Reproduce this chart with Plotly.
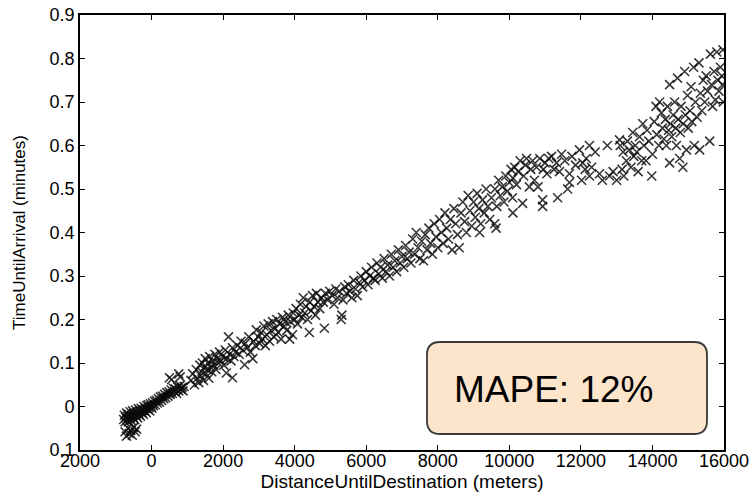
import plotly.graph_objects as go

# (distance in meters, time until arrival in minutes), by stretch of road
near_pts = [
    (-780,-0.030),(-760,-0.020),(-740,-0.035),(-720,-0.025),(-700,-0.015),(-690,-0.030),(-670,-0.022),
    (-650,-0.035),(-640,-0.018),(-620,-0.028),(-600,-0.012),(-590,-0.024),(-570,-0.032),(-550,-0.020),
    (-530,-0.010),(-510,-0.026),(-490,-0.016),(-470,-0.030),(-450,-0.008),(-430,-0.020),(-410,-0.014),
    (-390,-0.026),(-370,-0.005),(-350,-0.018),(-330,-0.010),(-310,-0.022),(-290,-0.004),(-270,-0.014),
    (-250,-0.008),(-230,-0.018),(-210,0.000),(-190,-0.010),(-170,-0.004),(-150,-0.014),(-130,0.002),
    (-110,-0.006),(-90,0.004),(-70,-0.002),(-50,-0.010),(-30,0.006),(-10,0.000),(10,-0.004),(30,0.008),
    (50,0.002),(80,0.012),(100,0.004),(130,0.014),(160,0.008),(190,0.018),(220,0.010),(250,0.022),
    (280,0.014),(310,0.024),(340,0.018),(370,0.028),(400,0.020),(430,0.032),(460,0.024),(490,0.034),
    (520,0.028),(550,0.038),(580,0.030),(610,0.042),(640,0.034),(670,0.040),(700,0.030),(730,0.045),
    (760,0.036),(790,0.048),(820,0.040),(850,0.044),(880,0.036),(910,0.046),
    (-740,-0.058),(-700,-0.068),(-660,-0.050),(-620,-0.062),(-580,-0.055),(-540,-0.066),(-500,-0.048),
    (-460,-0.058),(-420,-0.052),
    (500,0.066),(560,0.062),(760,0.075),(800,0.068),
]
early_pts = [
    (1100,0.060),(1150,0.075),(1200,0.050),(1250,0.085),(1280,0.065),(1320,0.055),(1350,0.095),
    (1380,0.070),(1400,0.080),(1420,0.100),(1450,0.060),(1480,0.090),(1500,0.110),(1520,0.075),
    (1550,0.085),(1580,0.100),(1600,0.065),(1620,0.115),(1650,0.090),(1680,0.080),(1700,0.105),
    (1740,0.095),(1770,0.120),(1800,0.085),(1830,0.110),(1870,0.100),(1900,0.125),(1940,0.105),
    (1980,0.115),(2020,0.095),(2060,0.130),(2100,0.110),(2150,0.160),(2180,0.120),(2090,0.077),
    (2260,0.066),(2220,0.105),(2260,0.135),(2300,0.115),(2350,0.125),(2400,0.140),(2450,0.120),
    (2500,0.150),(2550,0.130),(2600,0.096),(2620,0.145),(2680,0.135),(2720,0.160),(2760,0.125),
    (2830,0.110),(2850,0.150),(2900,0.140),(2930,0.176),(2980,0.160),
]
middle_pts = [
    (3020,0.145),(3060,0.170),(3100,0.155),(3140,0.185),(3180,0.140),(3220,0.165),(3260,0.190),
    (3300,0.150),(3340,0.175),(3380,0.195),(3420,0.160),(3460,0.180),(3500,0.200),(3540,0.170),
    (3580,0.190),(3620,0.155),(3660,0.205),(3700,0.185),(3740,0.195),(3780,0.175),(3820,0.210),
    (3860,0.155),(3880,0.195),(3940,0.165),(3960,0.215),(4000,0.200),(4040,0.225),(4080,0.190),
    (4120,0.210),(4160,0.235),(4200,0.205),(4240,0.250),(4280,0.215),(4320,0.230),(4360,0.200),
    (4410,0.170),(4420,0.240),(4460,0.220),(4500,0.255),(4540,0.230),(4580,0.210),(4610,0.260),
    (4650,0.240),(4700,0.225),(4750,0.250),(4830,0.180),(4800,0.240),(4860,0.260),(4920,0.245),
    (4980,0.265),(5050,0.255),(5100,0.235),(5150,0.270),(5200,0.250),(5250,0.265),(5300,0.200),
    (5320,0.210),(5350,0.245),(5400,0.275),(5450,0.260),(5500,0.280),(5550,0.265),(5600,0.250),
    (5650,0.290),(5700,0.270),(5750,0.255),(5800,0.285),(5850,0.300),(5900,0.275),(5950,0.290),
    (6000,0.310),(6050,0.280),(6100,0.300),(6150,0.320),(6200,0.295),
]
far_pts = [
    (6250,0.290),(6300,0.330),(6350,0.305),(6400,0.320),(6450,0.295),(6500,0.340),(6550,0.310),
    (6600,0.325),(6650,0.300),(6700,0.350),(6750,0.320),(6800,0.335),(6850,0.310),(6900,0.360),
    (6950,0.330),(7000,0.345),(7050,0.320),(7100,0.370),(7150,0.340),(7200,0.355),(7250,0.330),
    (7300,0.385),(7350,0.350),(7400,0.400),(7450,0.365),(7500,0.340),(7550,0.380),(7600,0.335),
    (7650,0.395),(7700,0.360),(7750,0.410),(7800,0.375),(7850,0.350),(7900,0.420),(7950,0.390),
    (8000,0.365),(8050,0.430),(8100,0.400),(8150,0.375),(8200,0.445),(8250,0.410),(8300,0.385),
    (8350,0.430),(8400,0.360),(8450,0.455),(8500,0.420),(8550,0.395),(8600,0.365),(8650,0.445),
    (8700,0.470),(8750,0.425),(8800,0.400),(8850,0.485),(8900,0.450),(8950,0.415),(9000,0.470),
    (9050,0.435),(9100,0.490),(9170,0.400),(9150,0.455),(9200,0.420),(9250,0.475),(9300,0.445),
    (9350,0.500),(9400,0.460),(9450,0.430),(9500,0.480),(9590,0.420),(9630,0.410),(9600,0.500),
    (9650,0.460),(9700,0.520),(9750,0.485),(9800,0.505),(9850,0.470),(9900,0.530),(9950,0.495),
    (10000,0.515),(10050,0.545),(10090,0.480),(10100,0.445),
]
plateau_pts = [
    (10100,0.525),(10150,0.550),(10200,0.510),(10250,0.540),(10300,0.565),(10370,0.467),(10400,0.530),
    (10450,0.555),(10480,0.570),(10560,0.505),(10600,0.545),(10650,0.565),(10700,0.520),(10760,0.550),
    (10800,0.505),(10850,0.570),(10930,0.475),(10930,0.460),(10950,0.545),(11000,0.560),(11050,0.535),
    (11100,0.570),(11180,0.575),(11250,0.545),(11320,0.560),(11350,0.480),(11400,0.540),(11460,0.580),
    (11550,0.565),(11630,0.500),(11680,0.515),(11680,0.535),(11750,0.575),(11850,0.555),(11960,0.590),
    (12020,0.520),(12050,0.560),(12120,0.545),(12150,0.570),(12240,0.600),(12240,0.530),(12300,0.550),
    (12400,0.585),(12520,0.535),(12600,0.520),(12740,0.600),(12800,0.530),(12900,0.540),(13000,0.520),
]
start_pts = [
    (13080,0.613),(13100,0.600),(13150,0.545),(13180,0.585),(13200,0.530),(13270,0.565),(13300,0.610),
    (13350,0.590),(13400,0.550),(13450,0.630),(13480,0.575),(13520,0.600),(13560,0.585),(13600,0.540),
    (13640,0.620),(13700,0.565),(13730,0.650),(13760,0.600),(13820,0.565),(13850,0.635),(13900,0.610),
    (13980,0.530),(14000,0.580),(14050,0.655),(14100,0.690),(14120,0.625),(14180,0.600),(14200,0.700),
    (14250,0.675),(14280,0.640),(14320,0.615),(14360,0.660),(14390,0.600),(14420,0.690),(14450,0.635),
    (14480,0.560),(14480,0.740),(14500,0.650),(14540,0.620),(14580,0.670),(14620,0.700),(14650,0.640),
    (14670,0.600),(14700,0.755),(14720,0.660),(14760,0.570),(14780,0.630),(14800,0.690),(14850,0.550),
    (14860,0.650),(14900,0.770),(14920,0.670),(14950,0.590),(14980,0.715),(15000,0.640),(15050,0.680),
    (15080,0.735),(15100,0.655),(15150,0.780),(15170,0.600),(15200,0.700),(15250,0.665),(15300,0.790),
    (15320,0.590),(15340,0.720),(15380,0.680),(15420,0.750),(15460,0.700),(15500,0.760),(15540,0.725),
    (15600,0.610),(15620,0.810),(15650,0.740),(15680,0.690),(15720,0.770),(15760,0.705),(15800,0.815),
    (15830,0.750),(15860,0.725),(15900,0.780),(15940,0.760),(15970,0.820),(15980,0.700),(15960,0.740),
]

x_tick_vals = [-2000, 0, 2000, 4000, 6000, 8000, 10000, 12000, 14000, 16000]
x_tick_text = ["2000", "0", "2000", "4000", "6000", "8000", "10000", "12000", "14000", "16000"]
y_tick_vals = [-0.1, 0, 0.1, 0.2, 0.3, 0.4, 0.5, 0.6, 0.7, 0.8, 0.9]
y_tick_text = ["0.1", "0", "0.1", "0.2", "0.3", "0.4", "0.5", "0.6", "0.7", "0.8", "0.9"]
mape_label = "MAPE: 12%"

all_pts = near_pts + early_pts + middle_pts + far_pts + plateau_pts + start_pts
distance = [p[0] for p in all_pts]
time_min = [p[1] for p in all_pts]

FONT = "Liberation Sans, Arial, sans-serif"

fig = go.Figure()
fig.add_trace(go.Scatter(
    x=distance, y=time_min, mode="markers",
    marker=dict(symbol="x-thin", size=9, line=dict(width=1.6, color="rgba(10,10,10,0.82)")),
    hoverinfo="skip", showlegend=False,
))

# rounded box in paper coordinates
x0, x1, y0, y1 = 0.5388, 0.9736, 0.0368, 0.2483
rx, ry = 13 / 644, 13 / 435
path = (f"M {x0+rx},{y0} L {x1-rx},{y0} Q {x1},{y0} {x1},{y0+ry} "
        f"L {x1},{y1-ry} Q {x1},{y1} {x1-rx},{y1} L {x0+rx},{y1} Q {x0},{y1} {x0},{y1-ry} "
        f"L {x0},{y0+ry} Q {x0},{y0} {x0+rx},{y0} Z")
fig.add_shape(type="path", path=path, xref="paper", yref="paper",
              fillcolor="#FDE5CC", line=dict(color="#3a3a3a", width=1.8), layer="above")
fig.add_annotation(x=0.5776, y=0.140, xref="paper", yref="paper", text=mape_label,
                   showarrow=False, xanchor="left", yanchor="middle",
                   font=dict(family=FONT, size=37, color="black"))

axis_common = dict(showline=True, linecolor="black", linewidth=1.6, mirror="allticks",
                   ticks="inside", ticklen=5, tickcolor="black", tickwidth=1,
                   showgrid=False, zeroline=False, automargin=False,
                   tickfont=dict(family=FONT, size=18, color="black"))
fig.update_xaxes(range=[-2000, 16000], tickvals=x_tick_vals, ticktext=x_tick_text,
                 ticklabelstandoff=-6,
                 title=dict(text="DistanceUntilDestination (meters)",
                            font=dict(family=FONT, size=19, color="black"), standoff=4),
                 **axis_common)
fig.update_yaxes(range=[-0.1, 0.9], tickvals=y_tick_vals, ticktext=y_tick_text,
                 title=dict(text="TimeUntilArrival (minutes)",
                            font=dict(family=FONT, size=17, color="black"), standoff=20),
                 **axis_common)
fig.update_layout(width=755, height=494, margin=dict(l=80, r=31, t=15, b=44),
                  plot_bgcolor="white", paper_bgcolor="white")
fig.write_html("out.html")
